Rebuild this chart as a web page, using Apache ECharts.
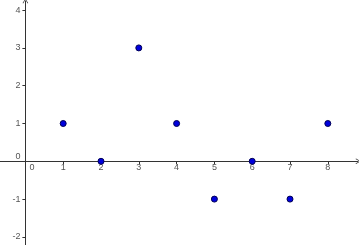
<!DOCTYPE html>
<html>
<head>
<meta charset="utf-8">
<script src="https://cdn.jsdelivr.net/npm/echarts@6/dist/echarts.min.js"></script>
<style>
html,body{margin:0;padding:0;background:#fff;}
#chart{width:359px;height:245px;}
</style>
</head>
<body>
<div id="chart"></div>
<script>
// Data
const xValues = [1, 2, 3, 4, 5, 6, 7, 8];
const yValues = [1, 0, 3, 1, -1, 0, -1, 1];
const xTickLabels = ['0', '1', '2', '3', '4', '5', '6', '7', '8'];
const yTickLabels = ['-2', '-1', '0', '1', '2', '3', '4'];

// Layout (pixel scale of the reference)
const W = 359, H = 245;
const U = 37.8;          // px per unit
const OX = 25.4, OY = 161.3; // origin in px

const points = xValues.map((x, i) => [x, yValues[i]]);

// visible grid for axis lines with arrows
const visR = 1, visT = 1;
const visXMin = -OX / U, visXMax = (W - visR - OX) / U;
const visYMax = (OY - visT) / U, visYMin = -(H - OY) / U;

// extended grid for ticks/labels/points
const exXMin = -1, exXMax = 9, exYMin = -3, exYMax = 5;
const exLeft = OX + exXMin * U;
const exRight = W - (OX + exXMax * U);
const exTop = OY - exYMax * U;
const exBottom = H - (OY - exYMin * U);

const axisColor = '#333333';
const labelColor = '#555555';
const fontFamily = 'Liberation Sans, Arial, sans-serif';
const arrowPath = 'path://M5,0 L10,8 L9,9 L5,2 L1,9 L0,8 Z';

const chart = echarts.init(document.getElementById('chart'), null, {renderer: 'canvas'});
chart.setOption({
  animation: false,
  backgroundColor: '#ffffff',
  grid: [
    {left: 0, right: visR, top: visT, bottom: 0, containLabel: false, outerBoundsMode: 'none'},
    {left: exLeft, right: exRight, top: exTop, bottom: exBottom, containLabel: false, outerBoundsMode: 'none'}
  ],
  xAxis: [
    {
      gridIndex: 0, type: 'value', min: visXMin, max: visXMax,
      axisLine: {show: true, onZero: true, lineStyle: {color: axisColor, width: 1},
        symbol: ['none', arrowPath], symbolSize: [7, 5]},
      axisTick: {show: false}, axisLabel: {show: false}, splitLine: {show: false}
    },
    {
      gridIndex: 1, type: 'value', min: exXMin, max: exXMax, interval: 1,
      position: 'bottom', offset: -(exYMin * -U),
      axisLine: {show: false, onZero: false},
      axisTick: {show: true, length: 3, lineStyle: {color: axisColor}},
      splitLine: {show: false},
      axisLabel: {
        show: true, margin: 2, color: labelColor, fontSize: 9, fontFamily: fontFamily,
        hideOverlap: false,
        formatter: function (v) {
          const s = String(v);
          if (xTickLabels.indexOf(s) < 0) return '';
          if (v === 0) return '{z|' + s + '}';
          return s;
        },
        rich: {z: {padding: [0, 0, 0, 13], color: labelColor, fontSize: 9, fontFamily: fontFamily}}
      }
    }
  ],
  yAxis: [
    {
      gridIndex: 0, type: 'value', min: visYMin, max: visYMax,
      axisLine: {show: true, onZero: true, lineStyle: {color: axisColor, width: 1},
        symbol: ['none', arrowPath], symbolSize: [7, 5]},
      axisTick: {show: false}, axisLabel: {show: false}, splitLine: {show: false}
    },
    {
      gridIndex: 1, type: 'value', min: exYMin, max: exYMax, interval: 1,
      position: 'left', offset: -(-exXMin * U),
      axisLine: {show: false, onZero: false},
      axisTick: {show: true, length: 3, lineStyle: {color: axisColor}},
      splitLine: {show: false},
      axisLabel: {
        show: true, margin: 5, color: labelColor, fontSize: 9, fontFamily: fontFamily,
        hideOverlap: false,
        formatter: function (v) {
          const s = String(v);
          if (yTickLabels.indexOf(s) < 0) return '';
          if (v === 0) return '{z|' + s + '}';
          return s;
        },
        rich: {z: {padding: [0, 0, 10, 0], color: labelColor, fontSize: 9, fontFamily: fontFamily}}
      }
    }
  ],
  series: [
    {
      type: 'scatter', xAxisIndex: 1, yAxisIndex: 1,
      data: points, symbol: 'circle', symbolSize: 6,
      itemStyle: {color: '#0000dd', borderColor: '#000055', borderWidth: 1, opacity: 1},
      emphasis: {disabled: true},
      z: 5
    }
  ]
});
</script>
</body>
</html>
